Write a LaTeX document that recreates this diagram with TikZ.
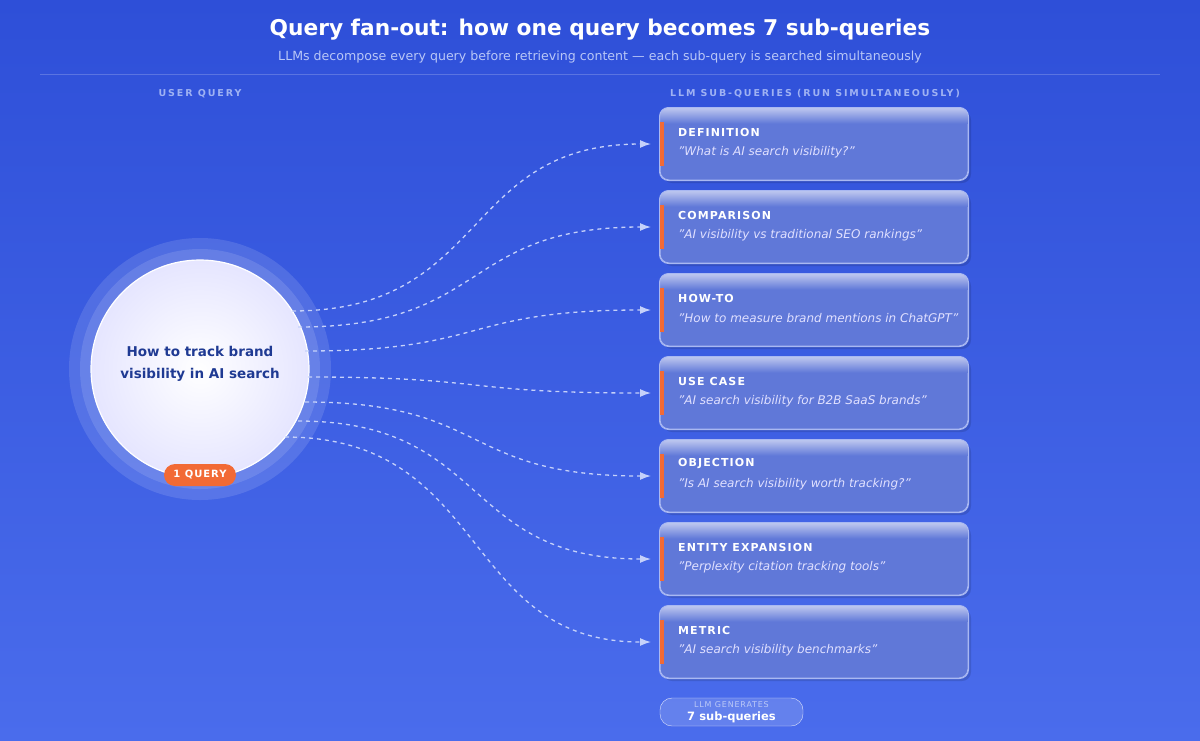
\documentclass[tikz,border=0pt]{standalone}
\usepackage{fontspec}
\setmainfont{DejaVu Sans}
\usetikzlibrary{arrows.meta}
\definecolor{bgA}{HTML}{2E4FD8}
\definecolor{bgB}{HTML}{4A6CEC}
\definecolor{boxF}{HTML}{6078D8}
\definecolor{boxE}{HTML}{A9B8F2}
\definecolor{acc}{HTML}{F26A35}
\definecolor{qtext}{HTML}{1F3A93}
\definecolor{sub}{HTML}{B9C7F7}
\definecolor{lbl}{HTML}{9FB2F3}
\definecolor{linkc}{HTML}{C5D1FA}
\newcommand{\spc}[1]{\addfontfeature{LetterSpace=#1}}
\newcommand{\qq}[1]{\symbol{34}#1\symbol{34}}
\tikzset{
 box/.style={draw=boxE, line width=1pt, fill=boxF, rounded corners=9pt, minimum width=308pt, minimum height=72pt, inner sep=0pt},
 head/.style={anchor=west, text=white, font=\bfseries\fontsize{11}{13}\selectfont\spc{10}, inner sep=0pt},
 quote/.style={anchor=west, text=white!88!blue, font=\itshape\fontsize{12}{14}\selectfont, inner sep=0pt},
 link/.style={draw=linkc, line width=1.3pt, dash pattern=on 4pt off 4pt, -{Latex[length=11pt,width=8pt]}},
 lab/.style={text=lbl,font=\bfseries\fontsize{9.5}{11}\selectfont\spc{20}},
}
\begin{document}
\begin{tikzpicture}[x=1pt,y=-1pt]
\shade[left color=bgA,right color=bgB,shading angle=0] (0,0) rectangle (1200,740);
\shade[top color=bgA, bottom color=bgB, opacity=0.5] (0,0) rectangle (1200,740);
\useasboundingbox (0,0) rectangle (1200,740);
\node[text=white,font=\bfseries\fontsize{21.7}{26}\selectfont] (title) at (600,30) {Query fan-out: how one query becomes 7 sub-queries};
\node[text=sub,font=\fontsize{12.6}{15}\selectfont] (subt) at (600,57) {LLMs decompose every query before retrieving content — each sub-query is searched simultaneously};
\draw[white,opacity=0.2,line width=1pt] (40,74) -- (1160,74);
\node[lab] (ul) at (200,94) {USER QUERY};
\node[lab] (ll) at (815,94) {LLM SUB-QUERIES (RUN SIMULTANEOUSLY)};
% circle
\fill[white,opacity=0.12] (200,369) circle (131);
\fill[white,opacity=0.12] (200,369) circle (120);
\shade[inner color=white, outer color=blue!10!white] (200,369) circle (109);
\draw[white, line width=1.2pt] (200,369) circle (109);
\node[circle, minimum size=218pt] (q) at (200,369) {};
\node[text=qtext,font=\bfseries\fontsize{13.5}{22}\selectfont,align=center] (qt) at (200,364) {How to track brand\\visibility in AI search};
\node[fill=acc,rounded corners=11pt,minimum width=72pt,minimum height=22pt,text=white,font=\bfseries\fontsize{10}{12}\selectfont\spc{10}] (badge) at (200,475) {1 QUERY};
% boxes
\foreach \i/\h/\t/\sx/\sy in {
 0/DEFINITION/{What is AI search visibility?}/292/311,
 1/COMPARISON/{AI visibility vs traditional SEO rankings}/298/327,
 2/HOW-TO/{How to measure brand mentions in ChatGPT}/305/351,
 3/USE CASE/{AI search visibility for B2B SaaS brands}/308/377,
 4/OBJECTION/{Is AI search visibility worth tracking?}/305/402,
 5/ENTITY EXPANSION/{Perplexity citation tracking tools}/298/421,
 6/METRIC/{AI search visibility benchmarks}/285/437}{
 \pgfmathsetmacro{\yy}{144+83*\i}
 \fill[black,opacity=0.12,rounded corners=9pt] (663,\yy-33) rectangle (971,\yy+39);
 \node[box] (b\i) at (814,\yy) {};
 \begin{scope}
 \clip[rounded corners=9pt] (b\i.north west) rectangle (b\i.south east);
 \shade[top color=white!60!boxF, bottom color=boxF] (b\i.north west) rectangle ([yshift=-16pt]b\i.north east);
 \end{scope}
 \draw[boxE, line width=1pt, rounded corners=9pt] (b\i.north west) rectangle (b\i.south east);
 \fill[acc] (660,\yy-22) rectangle (663.5,\yy+22);
 \node[head] (h\i) at (678,\yy-12) {\h};
 \node[quote] (t\i) at (678,\yy+8) {\qq{\t}};
 \coordinate (s\i) at (\sx,\sy);
 \coordinate (e\i) at (651,\yy);
 \draw[link] (s\i) .. controls (490,\sy) and (460,\yy) .. (e\i);
}
\node[draw=white!60!boxE,fill=white,fill opacity=0.15,text opacity=1,rounded corners=12pt,minimum width=143pt,minimum height=28pt] (pill) at (731.5,712) {};
\node[text=lbl!70!white,font=\fontsize{8}{9}\selectfont\spc{10}] (p1) at (731.5,705) {LLM GENERATES};
\node[text=white,font=\bfseries\fontsize{11.5}{13}\selectfont] (p2) at (731.5,717) {7 sub-queries};
\end{tikzpicture}
\end{document}
